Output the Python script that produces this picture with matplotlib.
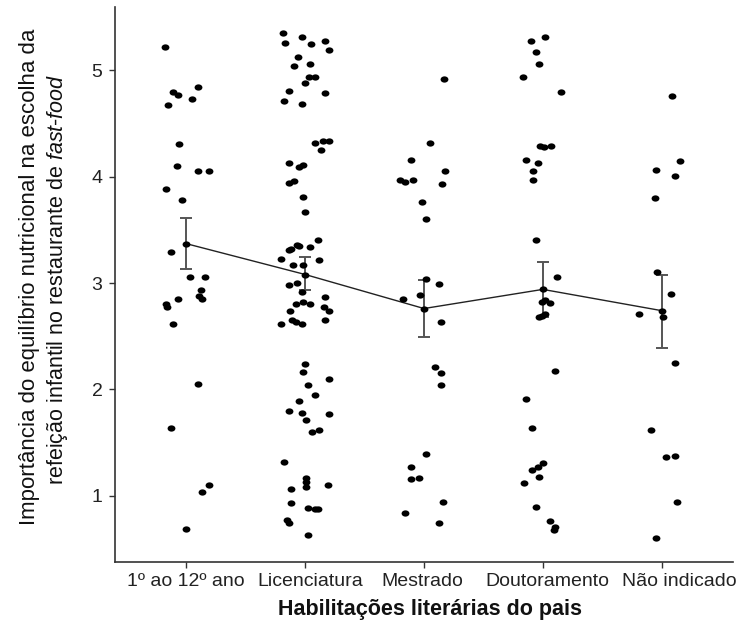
import matplotlib
matplotlib.use("Agg")
import matplotlib.pyplot as plt
import numpy as np
from matplotlib.path import Path
from matplotlib.transforms import Affine2D, ScaledTranslation

# ---------------- data ----------------
categories = ["1º ao 12º ano", "Licenciatura", "Mestrado", "Doutoramento", "Não indicado"]

cat1_values = [5.22, 4.80, 4.77, 4.84, 4.73, 4.67, 4.31, 4.10, 4.05, 4.05, 3.88, 3.78, 3.29,
               3.06, 3.06, 2.93, 2.88, 2.85, 2.85, 2.80, 2.77, 2.61, 2.05, 1.64, 1.10, 1.03, 0.69]
cat1_jitter = [-0.18, -0.11, -0.07, 0.10, 0.05, -0.15, -0.06, -0.08, 0.10, 0.19, -0.17, -0.04, -0.13,
               0.03, 0.16, 0.12, 0.11, 0.13, -0.07, -0.17, -0.16, -0.11, 0.10, -0.13, 0.19, 0.13, 0.00]

cat2_values = [5.35, 5.26, 5.31, 5.25, 5.28, 5.19, 5.13, 5.04, 5.06, 4.94, 4.94, 4.88, 4.81, 4.79, 4.71, 4.68,
               4.32, 4.34, 4.34, 4.25, 4.13, 4.09, 4.11, 3.94, 3.96, 3.81, 3.67,
               3.40, 3.36, 3.35, 3.32, 3.31, 3.34, 3.23, 3.22, 3.17, 3.17,
               2.98, 3.00, 2.92, 2.87, 2.80, 2.82, 2.80, 2.74, 2.77, 2.74, 2.61, 2.65, 2.63, 2.61, 2.65,
               2.24, 2.16, 2.10, 2.04, 1.95, 1.89, 1.80, 1.78, 1.77, 1.71, 1.60, 1.62,
               1.32, 1.17, 1.13, 1.08, 1.06, 1.10, 0.93, 0.88, 0.87, 0.87, 0.77, 0.74, 0.63]
cat2_jitter = [-0.19, -0.17, -0.03, 0.05, 0.17, 0.20, -0.06, -0.09, 0.04, 0.03, 0.08, 0.00, -0.14, 0.17, -0.18, -0.03,
               0.08, 0.15, 0.20, 0.13, -0.14, -0.05, -0.02, -0.14, -0.09, -0.02, 0.00,
               0.11, -0.07, -0.05, -0.12, -0.14, 0.04, -0.20, 0.12, -0.10, -0.02,
               -0.14, -0.07, -0.03, 0.17, -0.08, -0.02, 0.04, -0.13, 0.16, 0.20, -0.20, -0.11, -0.08, -0.03, 0.17,
               0.00, -0.02, 0.20, 0.02, 0.08, -0.05, -0.14, -0.03, 0.20, 0.01, 0.06, 0.12,
               -0.18, 0.01, 0.01, 0.01, -0.12, 0.19, -0.12, 0.02, 0.08, 0.11, -0.15, -0.14, 0.02]

cat3_values = [4.92, 4.32, 4.16, 4.05, 3.97, 3.95, 3.97, 3.93, 3.76, 3.60,
               3.04, 2.99, 2.89, 2.85, 2.63, 2.21, 2.15, 2.04,
               1.39, 1.27, 1.16, 1.17, 0.94, 0.84, 0.74]
cat3_jitter = [0.17, 0.05, -0.11, 0.18, -0.20, -0.16, -0.09, 0.15, -0.02, 0.02,
               0.02, 0.13, -0.03, -0.18, 0.14, 0.09, 0.14, 0.14,
               0.02, -0.11, -0.11, -0.04, 0.16, -0.16, 0.13]

cat4_values = [5.28, 5.31, 5.17, 5.06, 4.94, 4.80,
               4.29, 4.28, 4.29, 4.16, 4.13, 4.05, 3.97,
               3.40, 3.06, 2.82, 2.84, 2.81, 2.68, 2.71, 2.69,
               2.17, 1.91, 1.64, 1.31, 1.27, 1.24, 1.18, 1.12, 0.89, 0.76, 0.71, 0.68]
cat4_jitter = [-0.10, 0.02, -0.06, -0.03, -0.17, 0.15,
               -0.02, 0.01, 0.07, -0.14, -0.04, -0.08, -0.08,
               -0.06, 0.12, -0.01, 0.02, 0.06, -0.03, 0.02, -0.01,
               0.10, -0.14, -0.09, 0.00, -0.04, -0.09, -0.03, -0.16, -0.06, 0.06, 0.10, 0.09]

cat5_values = [4.76, 4.15, 4.06, 4.01, 3.80, 3.10, 2.90, 2.71, 2.68, 2.25, 1.62, 1.36, 1.37, 0.94, 0.60]
cat5_jitter = [0.09, 0.15, -0.05, 0.11, -0.06, -0.04, 0.08, -0.19, 0.01, 0.11, -0.09, 0.04, 0.11, 0.13, -0.05]

means = [3.37, 3.08, 2.76, 2.94, 2.74]
ci_low = [3.13, 2.93, 2.49, 2.68, 2.39]
ci_high = [3.61, 3.24, 3.03, 3.20, 3.08]

all_values = [cat1_values, cat2_values, cat3_values, cat4_values, cat5_values]
all_jitter = [cat1_jitter, cat2_jitter, cat3_jitter, cat4_jitter, cat5_jitter]

# ---------------- style ----------------
plt.rcParams['font.family'] = ['Liberation Sans', 'DejaVu Sans']
plt.rcParams['mathtext.fontset'] = 'custom'
plt.rcParams['mathtext.rm'] = 'Liberation Sans'
plt.rcParams['mathtext.it'] = 'Liberation Sans:italic'

fig = plt.figure(figsize=(7.52, 6.29), dpi=100)
W, H = 752, 629
ax = fig.add_axes([115 / W, 1 - 561.7 / H, (733 - 115) / W, (561.7 - 7.3) / H])

marker = Path.unit_circle().transformed(Affine2D().scale(1.25, 1.0))
positions = np.arange(1, len(categories) + 1)

for i, (vals, jit) in enumerate(zip(all_values, all_jitter)):
    x = positions[i] + np.array(jit)
    ax.scatter(x, vals, s=32, c='black', marker=marker, linewidths=0, zorder=3)

means_a = np.array(means)
ax.plot(positions, means_a, color='#222222', lw=1.0, zorder=2)
ax.errorbar(positions, means_a,
            yerr=[means_a - np.array(ci_low), np.array(ci_high) - means_a],
            fmt='none', ecolor='#555555', elinewidth=1.4, capsize=4.3, capthick=1.4, zorder=2)
ax.scatter(positions, means_a, s=32, c='black', marker=marker, linewidths=0, zorder=4)

ax.set_xlim(0.4, 5.6)
ax.set_ylim(0.379, 5.593)
ax.set_xticks(positions)
ax.set_xticklabels(categories)
ax.set_yticks([1, 2, 3, 4, 5])

for s in ['top', 'right']:
    ax.spines[s].set_visible(False)
for s in ['left', 'bottom']:
    ax.spines[s].set_linewidth(1.2)
    ax.spines[s].set_color('#333333')

ax.tick_params(axis='both', length=4, width=1.0, color='#333333', labelsize=14, labelcolor='#222222')
ax.tick_params(axis='x', pad=4)
ax.tick_params(axis='y', pad=5)

# small horizontal offsets of the tick labels as seen in the reference (pixels)
label_shift_px = [0, 5, -2, 5, 18]
for lab, dx in zip(ax.get_xticklabels(), label_shift_px):
    lab.set_transform(lab.get_transform() + ScaledTranslation(dx / 100, 0, fig.dpi_scale_trans))

fig.text(430 / W, 1 - 609 / H, "Habilitações literárias do pais", ha='center', va='center',
         fontsize=15.5, fontweight='bold', color='#111111')

fig.text(30 / W, 1 - 277 / H, "Importância do equilíbrio nutricional na escolha da",
         rotation=90, ha='center', va='center', fontsize=16, color='#111111')
fig.text(57 / W, 1 - 279 / H, r"refeição infantil no restaurante de $\mathit{fast}$-$\mathit{food}$",
         rotation=90, ha='center', va='center', fontsize=15.5, color='#111111')

fig.savefig("out.png", dpi=100)
